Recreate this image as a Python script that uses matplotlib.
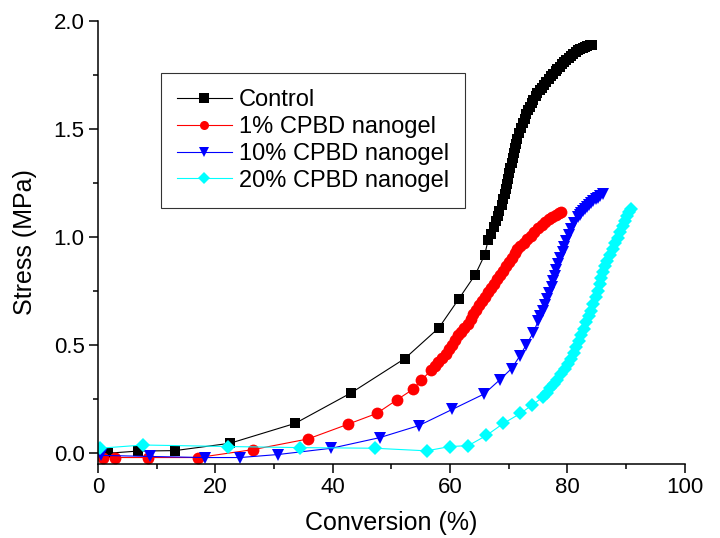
#!/usr/bin/env python3
"""Stress vs conversion curves for the CPBD nanogel series."""
import matplotlib
matplotlib.use("Agg")
import matplotlib.pyplot as plt
from matplotlib.ticker import MultipleLocator, FormatStrFormatter

plt.rcParams["font.family"] = ["Liberation Sans", "DejaVu Sans"]

labels = ["Control", "1% CPBD nanogel", "10% CPBD nanogel", "20% CPBD nanogel"]

ctrl_x = [1.7, 6.9, 13.1, 22.5, 33.6, 43.2, 52.3, 58.1, 61.5, 64.3, 65.9, 66.5,
          67.0, 67.5, 67.8, 68.1, 68.4, 68.8, 69.0, 69.3, 69.5, 69.7, 69.9, 70.1,
          70.3, 70.5, 70.7, 70.9, 71.1, 71.3, 71.5, 71.8, 72.1, 72.4, 72.7, 73.0,
          73.3, 73.6, 73.9, 74.2, 74.6, 74.9, 75.3, 75.6, 76.0, 76.4, 76.8, 77.2,
          77.6, 78.0, 78.3, 78.7, 79.1, 79.5, 79.8, 80.2, 80.6, 81.0, 81.4, 81.8,
          82.2, 82.6, 83.0, 83.4, 83.8, 84.2]
ctrl_y = [0.0, 0.01, 0.012, 0.046, 0.138, 0.28, 0.438, 0.58, 0.714, 0.826, 0.917, 0.986,
          1.016, 1.045, 1.073, 1.098, 1.121, 1.147, 1.174, 1.2, 1.223, 1.247, 1.27, 1.296,
          1.32, 1.343, 1.368, 1.39, 1.412, 1.433, 1.455, 1.48, 1.503, 1.527, 1.548, 1.568,
          1.587, 1.604, 1.62, 1.636, 1.652, 1.665, 1.68, 1.692, 1.705, 1.718, 1.731, 1.744,
          1.756, 1.768, 1.778, 1.789, 1.8, 1.811, 1.82, 1.83, 1.839, 1.848, 1.857, 1.864,
          1.871, 1.876, 1.88, 1.884, 1.887, 1.888]

red_x = [0.9, 2.9, 8.6, 17.1, 26.5, 35.8, 42.6, 47.5, 50.9, 53.7, 55.1, 56.8, 57.4,
         58.0, 58.6, 59.3, 59.8, 60.4, 60.9, 61.4, 61.9, 62.4, 63.0, 63.5, 64.0, 64.5,
         65.0, 65.5, 66.0, 66.5, 67.0, 67.5, 68.0, 68.5, 69.0, 69.5, 70.0, 70.5, 71.0,
         71.5, 72.0, 72.6, 73.2, 73.8, 74.4, 75.0, 75.6, 76.2, 76.8, 77.4, 78.0, 78.5,
         79.0]
red_y = [-0.02, -0.02, -0.02, -0.02, 0.017, 0.066, 0.134, 0.184, 0.246, 0.296, 0.338,
         0.384, 0.403, 0.422, 0.441, 0.46, 0.48, 0.5, 0.522, 0.545, 0.56, 0.578, 0.6,
         0.622, 0.643, 0.665, 0.686, 0.705, 0.725, 0.745, 0.765, 0.785, 0.806, 0.826,
         0.845, 0.864, 0.884, 0.905, 0.926, 0.945, 0.96, 0.975, 0.99, 1.005, 1.022, 1.04,
         1.055, 1.07, 1.082, 1.093, 1.102, 1.11, 1.118]

blue_x = [0.6, 8.9, 18.2, 24.2, 30.7, 39.8, 48.0, 54.7, 60.4, 65.8, 68.5, 70.5, 71.9,
          73.0, 74.2, 75.0, 75.4, 75.9, 76.2, 76.5, 76.9, 77.3, 77.6, 77.9, 78.1, 78.4,
          78.8, 79.2, 79.5, 79.8, 80.2, 80.7, 81.2, 81.8, 82.1, 82.4, 82.7, 83.0, 83.35,
          83.7, 84.05, 84.4, 84.8, 85.2, 85.6, 86.0]
blue_y = [-0.01, -0.015, -0.02, -0.02, -0.006, 0.023, 0.072, 0.128, 0.203, 0.274, 0.34,
          0.392, 0.45, 0.502, 0.558, 0.61, 0.635, 0.66, 0.687, 0.714, 0.741, 0.768, 0.795,
          0.822, 0.849, 0.876, 0.903, 0.929, 0.956, 0.983, 1.01, 1.037, 1.064, 1.091, 1.1,
          1.11, 1.12, 1.129, 1.138, 1.148, 1.158, 1.167, 1.175, 1.183, 1.19, 1.198]

cyan_x = [0.3, 7.7, 22.2, 34.4, 47.2, 56.0, 60.0, 63.1, 66.2, 69.1, 72.0, 74.0, 75.9,
          76.5, 77.1, 77.7, 78.3, 78.9, 79.6, 80.1, 80.7, 81.1, 81.5, 81.95, 82.4, 82.8,
          83.2, 83.65, 84.1, 84.45, 84.8, 85.15, 85.5, 85.8, 86.1, 86.45, 86.8, 87.25,
          87.7, 88.15, 88.6, 89.05, 89.5, 89.85, 90.2, 90.5, 90.8]
cyan_y = [0.023, 0.038, 0.031, 0.026, 0.023, 0.011, 0.031, 0.035, 0.082, 0.138, 0.184,
          0.223, 0.261, 0.28, 0.3, 0.318, 0.338, 0.365, 0.392, 0.415, 0.438, 0.465, 0.492,
          0.518, 0.545, 0.576, 0.607, 0.633, 0.66, 0.69, 0.722, 0.752, 0.783, 0.81, 0.837,
          0.864, 0.891, 0.918, 0.945, 0.972, 0.998, 1.025, 1.052, 1.075, 1.098, 1.115,
          1.132]

series = [
    (ctrl_x, ctrl_y, "black", "s", 7),
    (red_x, red_y, "#ff0000", "o", 8.5),
    (blue_x, blue_y, "#0000ff", "v", 9),
    (cyan_x, cyan_y, "#00ffff", "D", 7.5),
]

fig = plt.figure(figsize=(7.2, 5.38), dpi=100)
ax = fig.add_axes([0.136, 0.1375, 0.815, 0.8235])

for (xs, ys, c, m, ms), lab in zip(series, labels):
    ax.plot(xs, ys, color=c, lw=0.8, marker=m, ms=ms, mfc=c, mec=c, mew=0, label=lab)

ax.set_xlim(0, 100)
ax.set_ylim(-0.05, 2.0)
ax.xaxis.set_major_locator(MultipleLocator(20))
ax.xaxis.set_minor_locator(MultipleLocator(10))
ax.yaxis.set_major_locator(MultipleLocator(0.5))
ax.yaxis.set_minor_locator(MultipleLocator(0.25))
ax.yaxis.set_major_formatter(FormatStrFormatter("%.1f"))

for side in ("top", "right"):
    ax.spines[side].set_visible(False)
for side in ("left", "bottom"):
    ax.spines[side].set_linewidth(1.1)
ax.tick_params(which="major", direction="out", length=6.5, width=1.1, labelsize=16, pad=3)
ax.tick_params(which="minor", direction="out", length=3.5, width=1.1)

ax.set_xlabel("Conversion (%)", fontsize=18, labelpad=9)
ax.set_ylabel("Stress (MPa)", fontsize=18, labelpad=12)

leg = ax.legend(loc="upper left", bbox_to_anchor=(0.107, 0.883), borderaxespad=0,
                fontsize=17, frameon=True, fancybox=False, shadow=False,
                handlelength=2.3, handletextpad=0.3, labelspacing=0.2, borderpad=0.7)
leg.get_frame().set_edgecolor("black")
leg.get_frame().set_linewidth(0.8)
for h in leg.legend_handles:
    h.set_markersize(6.5)

fig.savefig("out.png", dpi=100)
